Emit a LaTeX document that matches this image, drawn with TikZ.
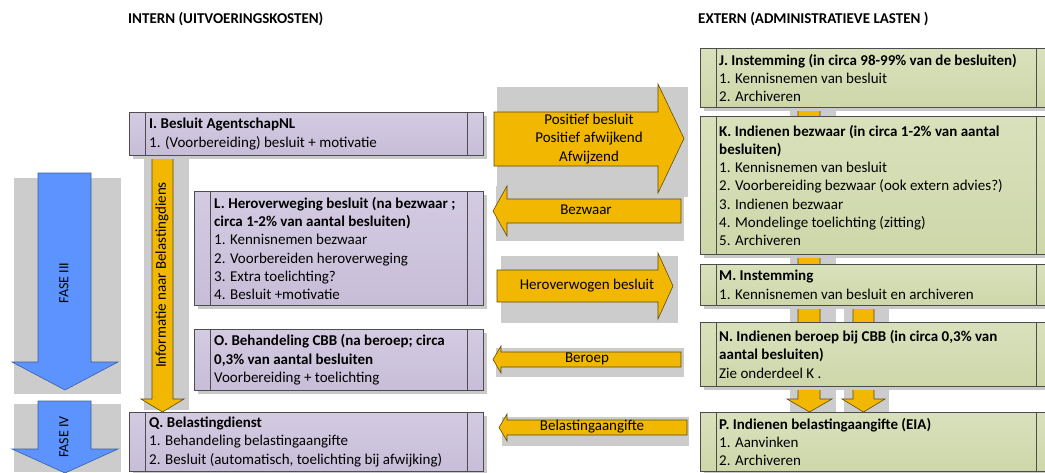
\documentclass[tikz,border=0pt]{standalone}
\usepackage{fontspec}
\setmainfont{Carlito}
\usetikzlibrary{shadows}
\definecolor{ptop}{HTML}{D3CBE2}
\definecolor{pbot}{HTML}{C7BDD8}
\definecolor{gtop}{HTML}{D9E1BC}
\definecolor{gbot}{HTML}{CDD7A9}
\definecolor{ofill}{HTML}{F2B700}
\definecolor{oline}{HTML}{5E4C12}
\definecolor{bfill}{HTML}{5C93FF}
\definecolor{bline}{HTML}{3D5E9E}
\definecolor{grayback}{HTML}{CCCCCC}
\definecolor{shcol}{HTML}{C9C9C9}
\definecolor{bcol}{HTML}{4D4D4D}
\tikzset{
  box/.style={draw=bcol, line width=0.8pt, inner sep=0pt, anchor=north west,
    drop shadow={shadow xshift=3.5pt, shadow yshift=-3.5pt, fill=shcol, opacity=1},
    path picture={\draw[bcol, line width=0.8pt]
      ([xshift=16pt]path picture bounding box.north west) -- ([xshift=16pt]path picture bounding box.south west)
      ([xshift=-16pt]path picture bounding box.north east) -- ([xshift=-16pt]path picture bounding box.south east);}},
  pbox/.style={box, top color=ptop, bottom color=pbot},
  gbox/.style={box, top color=gtop, bottom color=gbot},
  txt/.style={inner sep=0pt, anchor=west, align=left, font=\fontsize{15}{18.3}\selectfont},
  lbl/.style={inner sep=0pt, align=center, font=\fontsize{15}{18.5}\selectfont},
  ttl/.style={inner sep=0pt, anchor=west, font=\fontsize{15}{18}\selectfont\bfseries},
  fase/.style={inner sep=0pt, rotate=90, font=\fontsize{14}{16}\selectfont},
  backrect/.style={fill=grayback},
  oarrow/.style={fill=ofill, draw=oline, line width=0.6pt, line join=miter},
  barrow/.style={fill=bfill, draw=bline, line width=0.6pt, line join=miter},
}
\begin{document}
\begin{tikzpicture}[x=1pt,y=-1pt]
\useasboundingbox (0,0) rectangle (1045,472);
\clip (0,0) rectangle (1045,472);
\fill[white] (0,0) rectangle (1045,472);

% gray backgrounds of the block arrows
\fill[backrect] (14,178) rectangle (121,394);
\fill[backrect] (14,404) rectangle (121,472);
\fill[backrect] (144,159) rectangle (189,410);
\fill[backrect] (497,87) rectangle (688,197);
\fill[backrect] (496,186) rectangle (684,241);
\fill[backrect] (501,256) rectangle (678,323);
\fill[backrect] (496,348) rectangle (684,377);
\fill[backrect] (502,417) rectangle (689,446);
\fill[backrect] (790,107) rectangle (836,412);
\fill[backrect] (844,305) rectangle (889,412);

% phase arrows
\draw[barrow] (38,173) -- (91,173) -- (91,362) -- (118,362) -- (65,390) -- (12,362) -- (38,362) -- cycle;
\draw[barrow] (38,401) -- (91,401) -- (91,449) -- (118,449) -- (65,473) -- (12,449) -- (38,449) -- cycle;

% orange block arrows
\draw[oarrow] (152,155) -- (173,155) -- (173,399) -- (184,399) -- (162.5,412) -- (141,399) -- (152,399) -- cycle;
\draw[oarrow] (494,112) -- (658,112) -- (658,84) -- (684,138.5) -- (658,193) -- (658,166) -- (494,166) -- cycle;
\draw[oarrow] (681,199) -- (507,199) -- (507,186) -- (493,211) -- (507,236) -- (507,223) -- (681,223) -- cycle;
\draw[oarrow] (497,270) -- (658,270) -- (658,253) -- (673,286) -- (658,319) -- (658,302) -- (497,302) -- cycle;
\draw[oarrow] (681,352) -- (501,352) -- (501,346) -- (493,359.5) -- (501,373) -- (501,367) -- (681,367) -- cycle;
\draw[oarrow] (687,420) -- (507,420) -- (507,414) -- (499,427.5) -- (507,441) -- (507,435) -- (687,435) -- cycle;
\draw[oarrow] (798,107) -- (820,107) -- (820,399) -- (832,399) -- (809.5,412) -- (787,399) -- (798,399) -- cycle;
\draw[oarrow] (853,305) -- (874,305) -- (874,399) -- (885,399) -- (863.5,412) -- (842,399) -- (853,399) -- cycle;

% titles
\node[ttl] (tintern) at (128,19) {INTERN (UITVOERINGSKOSTEN)};
\node[ttl] (textern) at (698,19) {EXTERN (ADMINISTRATIEVE LASTEN )};

% internal boxes
\node[pbox, minimum width=354pt, minimum height=43pt] (I) at (129,112) {};
\node[pbox, minimum width=289pt, minimum height=114pt] (L) at (194,191) {};
\node[pbox, minimum width=289pt, minimum height=61pt] (O) at (194,329) {};
\node[pbox, minimum width=354pt, minimum height=59pt] (Q) at (129,412) {};

% external boxes
\node[gbox, minimum width=352pt, minimum height=59pt] (J) at (700,48) {};
\node[gbox, minimum width=352pt, minimum height=138pt] (K) at (700,116) {};
\node[gbox, minimum width=352pt, minimum height=41pt] (M) at (700,264) {};
\node[gbox, minimum width=352pt, minimum height=64pt] (N) at (700,322) {};
\node[gbox, minimum width=352pt, minimum height=59pt] (P) at (700,412) {};

% box texts
\node[txt] (Itxt) at ([xshift=20pt]I.west) {\textbf{I. Besluit AgentschapNL}\\1. (Voorbereiding) besluit + motivatie};
\node[txt] (Ltxt) at ([xshift=20pt]L.west) {\textbf{L. Heroverweging besluit (na bezwaar ;}\\\textbf{circa 1-2\% van aantal besluiten)}\\1. Kennisnemen bezwaar\\2. Voorbereiden heroverweging\\3. Extra toelichting?\\4. Besluit +motivatie};
\node[txt] (Otxt) at ([xshift=20pt]O.west) {\textbf{O. Behandeling CBB (na beroep; circa}\\\textbf{0,3\% van aantal besluiten}\\Voorbereiding + toelichting};
\node[txt] (Qtxt) at ([xshift=20pt]Q.west) {\textbf{Q. Belastingdienst}\\1. Behandeling belastingaangifte\\2. Besluit (automatisch, toelichting bij afwijking)};
\node[txt] (Jtxt) at ([xshift=19pt]J.west) {\textbf{J. Instemming (in circa 98-99\% van de besluiten)}\\1. Kennisnemen van besluit\\2. Archiveren};
\node[txt] (Ktxt) at ([xshift=19pt]K.west) {\textbf{K. Indienen bezwaar (in circa 1-2\% van aantal}\\\textbf{besluiten)}\\1. Kennisnemen van besluit\\2. Voorbereiding bezwaar (ook extern advies?)\\3. Indienen bezwaar\\4. Mondelinge toelichting (zitting)\\5. Archiveren};
\node[txt] (Mtxt) at ([xshift=19pt]M.west) {\textbf{M. Instemming}\\1. Kennisnemen van besluit en archiveren};
\node[txt] (Ntxt) at ([xshift=19pt]N.west) {\textbf{N. Indienen beroep bij CBB (in circa 0,3\% van}\\\textbf{aantal besluiten)}\\Zie onderdeel K .};
\node[txt] (Ptxt) at ([xshift=19pt]P.west) {\textbf{P. Indienen belastingaangifte (EIA)}\\1. Aanvinken\\2. Archiveren};

% arrow labels
\node[lbl] (lpos) at (589,139) {Positief besluit\\Positief afwijkend\\Afwijzend};
\node[lbl] (lbez) at (586,210) {Bezwaar};
\node[lbl] (lher) at (587,286) {Heroverwogen besluit};
\node[lbl] (lber) at (587,359) {Beroep};
\node[lbl] (lbel) at (592,427) {Belastingaangifte};
\node[lbl, rotate=90] (linfo) at (162,275) {Informatie naar Belastingdiens};
\node[fase] (f3) at (64,283) {FASE III};
\node[fase] (f4) at (64,437) {FASE IV};
\end{tikzpicture}
\end{document}
